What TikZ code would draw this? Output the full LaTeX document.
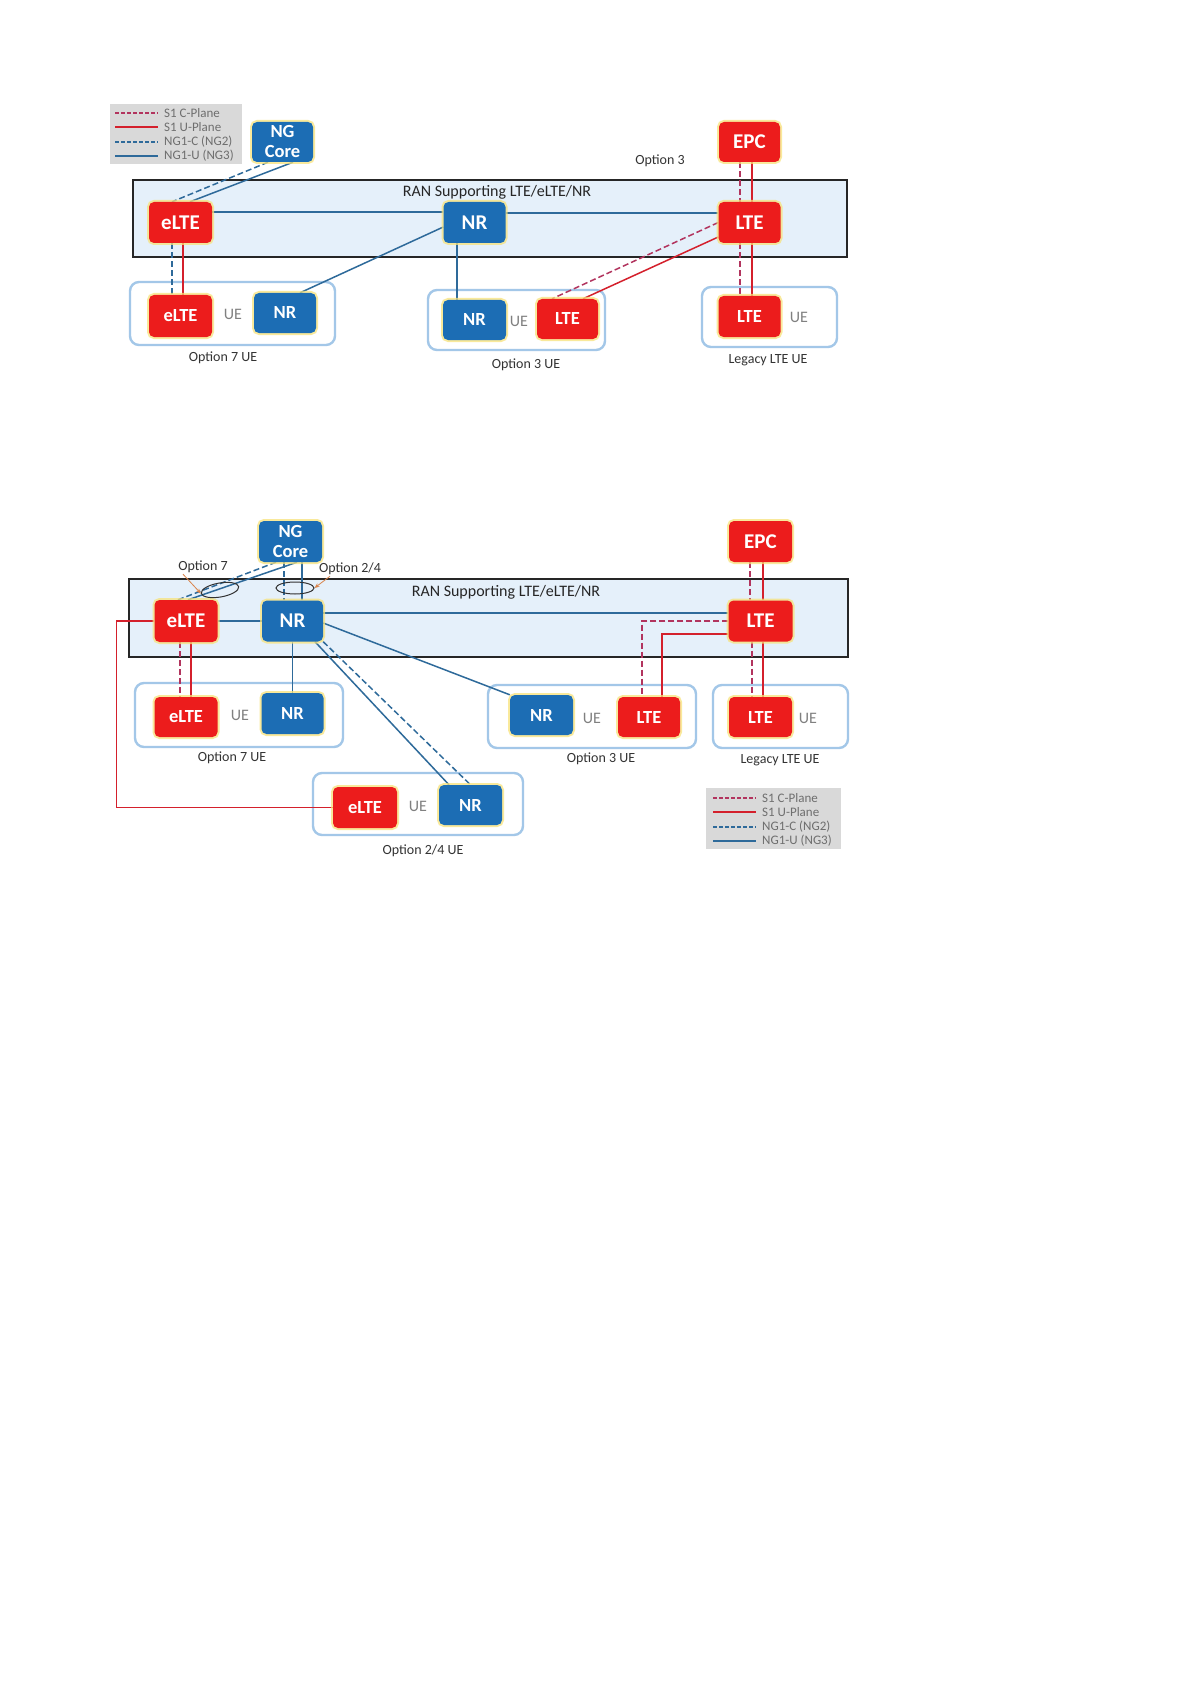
\documentclass[tikz,border=0pt]{standalone}
\usepackage{fontspec}
\setmainfont{Carlito}
\usetikzlibrary{shapes.geometric,arrows.meta}
\definecolor{boxred}{HTML}{EC1C1C}
\definecolor{boxblue}{HTML}{1C6DB4}
\definecolor{glowc}{HTML}{F7E27A}
\definecolor{linkblue}{HTML}{2E6A9A}
\definecolor{linkred}{HTML}{D4202C}
\definecolor{dashred}{HTML}{B2345E}
\definecolor{ranfill}{HTML}{E5F0FA}
\definecolor{uebord}{HTML}{A3C7E8}
\definecolor{legfill}{HTML}{D9D9D9}
\definecolor{legtext}{HTML}{6E6E6E}
\definecolor{labtext}{HTML}{333333}
\definecolor{uetext}{HTML}{808080}
\definecolor{callout}{HTML}{D9834A}
\pgfdeclarelayer{back}
\pgfdeclarelayer{mid}
\pgfsetlayers{back,mid,main}
\tikzset{
  boxbase/.style={rounded corners=5pt, inner sep=0pt, text=white, align=center,
     font=\bfseries\fontsize{21}{23}\selectfont,
     preaction={draw=glowc, line width=4pt, draw opacity=0.75}},
  rbox/.style={boxbase, fill=boxred},
  bbox/.style={boxbase, fill=boxblue},
  uefont/.style={font=\bfseries\fontsize{18.5}{21}\selectfont},
  corefont/.style={font=\bfseries\fontsize{18.5}{20}\selectfont},
  ranbox/.style={draw=black!85, line width=1.4pt, fill=ranfill, inner sep=0pt},
  uebox/.style={draw=uebord, line width=2.4pt, fill=white, rounded corners=9pt, inner sep=0pt},
  legbox/.style={fill=legfill, inner sep=0pt},
  legtxt/.style={anchor=west, text=legtext, font=\fontsize{13}{14}\selectfont, inner sep=0pt},
  lab/.style={text=labtext, font=\fontsize{14}{16}\selectfont, inner sep=1pt},
  uetxt/.style={text=uetext, font=\fontsize{16}{18}\selectfont, inner sep=0pt},
  ranlab/.style={text=black!85, font=\fontsize{16}{19}\selectfont, inner sep=0pt},
  ublue/.style={draw=linkblue, line width=1.5pt},
  cblue/.style={draw=linkblue, line width=1.5pt, dash pattern=on 6pt off 3pt},
  ured/.style={draw=linkred, line width=1.5pt},
  cred/.style={draw=dashred, line width=1.5pt, dash pattern=on 6pt off 3pt},
  ring/.style={draw=black!80, line width=1pt, ellipse, inner sep=0pt},
  callarrow/.style={draw=callout, line width=0.8pt, -{Stealth[length=5pt,width=4pt]}},
}
\begin{document}
\begin{tikzpicture}[x=1pt,y=-1pt]
\useasboundingbox (0,0) rectangle (1193,1685);
\begin{pgfonlayer}{back}
\fill[white] (0,0) rectangle (1193,1685);
\end{pgfonlayer}

% ================= TOP DIAGRAM =================
\begin{pgfonlayer}{back}
\node[ranbox, minimum width=714pt, minimum height=77pt] (ran1) at (490,218.5) {};
\node[uebox, minimum width=205pt, minimum height=63pt] (ue7a) at (232.5,313.5) {};
\node[uebox, minimum width=177pt, minimum height=60pt] (ue3a) at (516.5,320) {};
\node[uebox, minimum width=135pt, minimum height=60pt] (ueLa) at (769.5,317) {};
\node[legbox, minimum width=132pt, minimum height=60pt] (leg1) at (176,134) {};
\end{pgfonlayer}

\node[ranlab] (ranlab1) at (497,192) {RAN Supporting LTE/eLTE/NR};
\node[lab] (opt3lab) at (660,161) {Option 3};

\node[bbox, corefont, minimum width=61pt, minimum height=40pt] (ngc1) at (282.5,142) {NG\\Core};
\node[rbox, minimum width=61pt, minimum height=40pt] (epc1) at (749.5,142) {EPC};
\node[rbox, minimum width=63pt, minimum height=41pt] (elte1) at (180.5,222.5) {eLTE};
\node[bbox, minimum width=62pt, minimum height=41pt] (nr1) at (474.5,222.5) {NR};
\node[rbox, minimum width=62pt, minimum height=41pt] (lte1) at (749.5,222.5) {LTE};

\node[rbox, uefont, minimum width=63pt, minimum height=42pt] (eue1) at (180.5,316) {eLTE};
\node[uetxt] (uet1) at (233,314) {UE};
\node[bbox, uefont, minimum width=62pt, minimum height=40pt] (nrue1) at (285,313) {NR};
\node[bbox, uefont, minimum width=63pt, minimum height=40pt] (nr3a) at (474.5,320) {NR};
\node[uetxt] (uet2) at (519,321) {UE};
\node[rbox, uefont, minimum width=61pt, minimum height=40pt] (lte3a) at (567.5,319) {LTE};
\node[rbox, uefont, minimum width=62pt, minimum height=41pt] (lteLa) at (749.5,316.5) {LTE};
\node[uetxt] (uet3) at (799,317) {UE};

\node[lab] (l7a) at (223,358) {Option 7 UE};
\node[lab] (l3a) at (526,365) {Option 3 UE};
\node[lab] (lLa) at (768,360) {Legacy LTE UE};

% legend 1
\draw[cred, line width=1.2pt, dash pattern=on 4pt off 2pt] (115,113) -- (158,113);
\draw[ured, line width=1.2pt] (115,127) -- (158,127);
\draw[cblue, line width=1.2pt, dash pattern=on 4pt off 2pt] (115,142) -- (158,142);
\draw[ublue, line width=1.2pt] (115,156) -- (158,156);
\node[legtxt] (lg1a) at (164,113) {S1 C-Plane};
\node[legtxt] (lg1b) at (164,127) {S1 U-Plane};
\node[legtxt] (lg1c) at (164,142) {NG1-C (NG2)};
\node[legtxt] (lg1d) at (164,156) {NG1-U (NG3)};

\begin{pgfonlayer}{mid}
\draw[cblue] ([xshift=-14.5pt]ngc1.south) -- ([xshift=-8.5pt]elte1.north);
\draw[ublue] ([xshift=10.5pt]ngc1.south) -- ([xshift=9.5pt]elte1.north);
\draw[ublue] ([yshift=10.5pt]elte1.east) -- ([yshift=10.5pt]nr1.west);
\draw[ublue] ([yshift=9.5pt]nr1.east) -- ([yshift=9.5pt]lte1.west);
\draw[ublue] ([yshift=-4.5pt]nr1.west) -- ([xshift=15pt]nrue1.north);
\draw[cblue] ([xshift=-8.5pt]elte1.south) -- ([xshift=-8.5pt]eue1.north);
\draw[ured] ([xshift=2.5pt]elte1.south) -- ([xshift=2.5pt]eue1.north);
\draw[ublue] ([xshift=-17.5pt]nr1.south) -- ([xshift=-17.5pt]nr3a.north);
\draw[cred] (lte1.west) -- ([xshift=-15.5pt]lte3a.north);
\draw[ured] ([yshift=-14.5pt]lte1.west) -- ([xshift=15.5pt]lte3a.north);
\draw[cred] ([xshift=-9.5pt]epc1.south) -- ([xshift=-9.5pt]lte1.north);
\draw[ured] ([xshift=2.5pt]epc1.south) -- ([xshift=2.5pt]lte1.north);
\draw[cred] ([xshift=-9.5pt]lte1.south) -- ([xshift=-9.5pt]lteLa.north);
\draw[ured] ([xshift=2.5pt]lte1.south) -- ([xshift=2.5pt]lteLa.north);
\end{pgfonlayer}

% ================= BOTTOM DIAGRAM =================
\begin{pgfonlayer}{back}
\node[ranbox, minimum width=719pt, minimum height=78pt] (ran2) at (488.5,618) {};
\node[uebox, minimum width=208pt, minimum height=64pt] (ue7b) at (239,715) {};
\node[uebox, minimum width=210pt, minimum height=62pt] (ue24) at (418,804) {};
\node[uebox, minimum width=208pt, minimum height=63pt] (ue3b) at (592,716.5) {};
\node[uebox, minimum width=135pt, minimum height=63pt] (ueLb) at (780.5,716.5) {};
\node[legbox, minimum width=135pt, minimum height=61pt] (leg2) at (773.5,818.5) {};
\end{pgfonlayer}

\node[ranlab] (ranlab2) at (506,592) {RAN Supporting LTE/eLTE/NR};
\node[lab] (opt7lab) at (203,567) {Option 7};
\node[lab] (opt24lab) at (350,569) {Option 2/4};

\node[bbox, corefont, minimum width=63pt, minimum height=41pt] (ngc2) at (290.5,541.5) {NG\\Core};
\node[rbox, minimum width=63pt, minimum height=41pt] (epc2) at (760.5,541.5) {EPC};
\node[rbox, minimum width=63pt, minimum height=42pt] (elte2) at (186,621) {eLTE};
\node[bbox, minimum width=61pt, minimum height=41pt] (nr2) at (292.5,621) {NR};
\node[rbox, minimum width=64pt, minimum height=41pt] (lte2) at (760.5,621) {LTE};

\node[rbox, uefont, minimum width=63pt, minimum height=40pt] (eue2) at (186,717) {eLTE};
\node[uetxt] (uet4) at (240,715) {UE};
\node[bbox, uefont, minimum width=62pt, minimum height=41pt] (nrue2) at (292.5,713.5) {NR};
\node[rbox, uefont, minimum width=64pt, minimum height=41pt] (eue24) at (365,807.5) {eLTE};
\node[uetxt] (uet5) at (418,806) {UE};
\node[bbox, uefont, minimum width=63pt, minimum height=40pt] (nr24) at (470.5,805) {NR};
\node[bbox, uefont, minimum width=63pt, minimum height=40pt] (nr3b) at (541.5,715) {NR};
\node[uetxt] (uet6) at (592,718) {UE};
\node[rbox, uefont, minimum width=62pt, minimum height=40pt] (lte3b) at (649,717) {LTE};
\node[rbox, uefont, minimum width=63pt, minimum height=40pt] (lteLb) at (760.5,717) {LTE};
\node[uetxt] (uet7) at (808,718) {UE};

\node[lab] (l7b) at (232,758) {Option 7 UE};
\node[lab] (l24b) at (423,851) {Option 2/4 UE};
\node[lab] (l3b) at (601,759) {Option 3 UE};
\node[lab] (lLb) at (780,760) {Legacy LTE UE};

% legend 2
\draw[cred, line width=1.2pt, dash pattern=on 4pt off 2pt] (713,798) -- (756,798);
\draw[ured, line width=1.2pt] (713,812) -- (756,812);
\draw[cblue, line width=1.2pt, dash pattern=on 4pt off 2pt] (713,827) -- (756,827);
\draw[ublue, line width=1.2pt] (713,841) -- (756,841);
\node[legtxt] (lg2a) at (762,798) {S1 C-Plane};
\node[legtxt] (lg2b) at (762,812) {S1 U-Plane};
\node[legtxt] (lg2c) at (762,827) {NG1-C (NG2)};
\node[legtxt] (lg2d) at (762,841) {NG1-U (NG3)};

\begin{pgfonlayer}{mid}
\draw[cblue] ([xshift=-14.5pt]ngc2.south) -- ([xshift=-8pt]elte2.north);
\draw[ublue] ([xshift=6.5pt]ngc2.south) -- ([xshift=2pt]elte2.north);
\draw[cblue] ([xshift=-6.5pt]ngc2.south) -- ([xshift=-8.5pt]nr2.north);
\draw[ublue] ([xshift=11.5pt]ngc2.south) -- ([xshift=9.5pt]nr2.north);
\draw[ublue] (elte2.east) -- (nr2.west);
\draw[ublue] ([yshift=8pt]nr2.east) -- ([yshift=8pt]lte2.west);
\draw[cred] ([xshift=-6pt]elte2.south) -- ([xshift=-6pt]eue2.north);
\draw[ured] ([xshift=5pt]elte2.south) -- ([xshift=5pt]eue2.north);
\draw[ublue] (nr2.south) -- (nrue2.north);
\draw[ublue] ([xshift=22.5pt]nr2.south) -- ([xshift=-21.5pt]nr24.north);
\draw[cblue] (nr2.south east) -- (nr24.north);
\draw[ublue] ([yshift=-2pt]nr2.east) -- (nr3b.north west);
\draw[ured] (elte2.west) -- ++(-38,0) |- (eue24.west);
\draw[cred] (lte2.west) -| ([xshift=-7pt]lte3b.north);
\draw[ured] ([yshift=-13pt]lte2.west) -| ([xshift=13pt]lte3b.north);
\draw[cred] ([xshift=-10.5pt]epc2.south) -- ([xshift=-10.5pt]lte2.north);
\draw[ured] ([xshift=2.5pt]epc2.south) -- ([xshift=2.5pt]lte2.north);
\draw[cred] ([xshift=-8.5pt]lte2.south) -- ([xshift=-8.5pt]lteLb.north);
\draw[ured] ([xshift=2.5pt]lte2.south) -- ([xshift=2.5pt]lteLb.north);
\end{pgfonlayer}

% option rings and callouts
\node[ring, minimum width=38pt, minimum height=14pt, rotate=10] (ell7) at (220,590) {};
\node[ring, minimum width=38pt, minimum height=12pt] (ell24) at (295,588) {};
\draw[callarrow] ([xshift=-20pt]opt7lab.south) -- (ell7.west);
\draw[callarrow] ([xshift=-20pt]opt24lab.south) -- (ell24.east);
\end{tikzpicture}
\end{document}
